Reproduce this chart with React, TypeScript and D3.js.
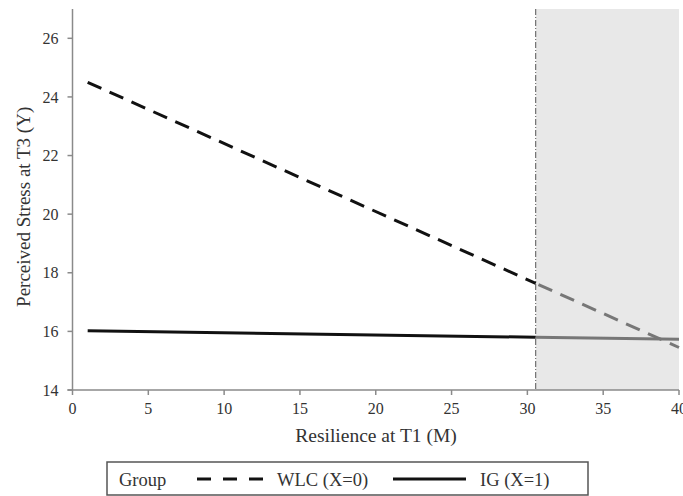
import React from 'react';
import * as d3 from 'd3';

// Johnson-Neyman style plot: simple slopes of Y on M for each group
const xTicks = [0, 5, 10, 15, 20, 25, 30, 35, 40];
const yTicks = [14, 16, 18, 20, 22, 24, 26];
const jnPoint = 30.55;

// endpoints (M, Y)
const wlcLine: [number, number][] = [[1, 24.5], [jnPoint, 17.64], [40, 15.45]];
const igLine: [number, number][] = [[1, 16.02], [jnPoint, 15.8], [40, 15.73]];

const legendItems = [
  { label: 'WLC (X=0)', dashed: true },
  { label: 'IG (X=1)', dashed: false },
];

const W = 683;
const H = 496;
const FONT = '"Liberation Serif", "Times New Roman", serif';

export default function App() {
  const x = d3.scaleLinear().domain([0, 40]).range([72.5, 679]);
  const y = d3.scaleLinear().domain([14, 27]).range([390, 9]);
  const line = d3.line<[number, number]>().x(d => x(d[0])).y(d => y(d[1]));

  const axisColor = '#8a8a8a';
  const textColor = '#333';

  const seg = (pts: [number, number][], part: 'in' | 'out') =>
    part === 'in' ? pts.slice(0, 2) : pts.slice(1, 3);

  return (
    <div style={{ position: 'absolute', left: 0, top: 0 }}>
      <svg width={W} height={H} style={{ display: 'block', background: '#fff' }}>
        {/* region beyond the J-N point */}
        <rect x={x(jnPoint)} y={y(27)} width={x(40) - x(jnPoint)} height={y(14) - y(27)} fill="#e8e8e8" />
        <line x1={x(jnPoint)} x2={x(jnPoint)} y1={y(27)} y2={y(14)}
          stroke="#555" strokeWidth={1} strokeDasharray="6,2,1,2" />

        {/* lines */}
        <path d={line(seg(wlcLine, 'in')) || ''} fill="none" stroke="#111" strokeWidth={3} strokeDasharray="15,9" />
        <path d={line(seg(wlcLine, 'out')) || ''} fill="none" stroke="#777" strokeWidth={3} strokeDasharray="15,9" strokeDashoffset={-3} />
        <path d={line(seg(igLine, 'in')) || ''} fill="none" stroke="#111" strokeWidth={3} />
        <path d={line(seg(igLine, 'out')) || ''} fill="none" stroke="#777" strokeWidth={3} />

        {/* y axis */}
        <line x1={x(0)} x2={x(0)} y1={y(27)} y2={y(14)} stroke={axisColor} strokeWidth={1.5} />
        {yTicks.map(t => (
          <g key={t} transform={`translate(${x(0)},${y(t)})`}>
            <line x1={-5} x2={0} stroke={axisColor} strokeWidth={1.5} />
            <text x={-14} dy="0.35em" textAnchor="end" fontFamily={FONT} fontSize={16} fill={textColor}>{t}</text>
          </g>
        ))}
        <text transform={`translate(30,${y(20.25)}) rotate(-90)`} textAnchor="middle" fontFamily={FONT} fontSize={19} fill={textColor}>
          Perceived Stress at T3 (Y)
        </text>

        {/* x axis */}
        <line x1={x(0) - 5} x2={x(40)} y1={y(14)} y2={y(14)} stroke={axisColor} strokeWidth={1.5} />
        {xTicks.map(t => (
          <g key={t} transform={`translate(${x(t)},${y(14)})`}>
            <line y1={0} y2={5} stroke={axisColor} strokeWidth={1.5} />
            <text y={24} textAnchor="middle" fontFamily={FONT} fontSize={16} fill={textColor}>{t}</text>
          </g>
        ))}
        <text x={376} y={442} textAnchor="middle" fontFamily={FONT} fontSize={19.5} fill={textColor}>
          Resilience at T1 (M)
        </text>

        {/* legend */}
        <rect x={107} y={462} width={481} height={33} fill="#fff" stroke="#555" strokeWidth={1.5} />
        <text x={119} y={486} fontFamily={FONT} fontSize={18.5} fill={textColor}>Group</text>
        {legendItems.map((d, i) => {
          const lx = i === 0 ? 197 : 393;
          return (
            <g key={d.label}>
              <line x1={lx} x2={lx + (i === 0 ? 66 : 73)} y1={479} y2={479} stroke="#111" strokeWidth={3}
                strokeDasharray={d.dashed ? '14,12' : undefined} />
              <text x={i === 0 ? 277 : 480} y={486} fontFamily={FONT} fontSize={18.5} fill={textColor}>{d.label}</text>
            </g>
          );
        })}
      </svg>
    </div>
  );
}
